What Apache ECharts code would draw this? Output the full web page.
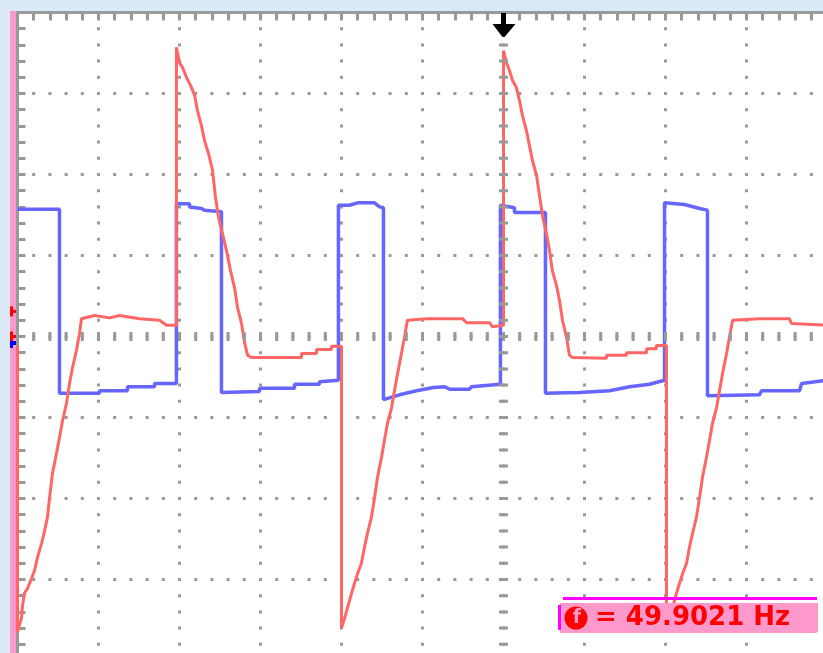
<!DOCTYPE html>
<html>
<head>
<meta charset="utf-8">
<script src="https://cdn.jsdelivr.net/npm/echarts/dist/echarts.min.js"></script>
<style>
  html, body { margin: 0; padding: 0; background: #dbe9f7; }
  #scope { width: 823px; height: 653px; }
</style>
</head>
<body>
<div id="scope"></div>
<script>
// Time in ms (5 ms/div, trigger at 0), level in divisions (0 = centre line)
const redTrace = [
  [-30.0,-0.11],[-30.0,-3.65],[-29.75,-3.47],[-29.69,-3.32],[-29.57,-3.17],[-29.38,-3.11],[-29.14,-2.99],
  [-28.95,-2.89],[-28.77,-2.73],[-28.52,-2.56],[-28.33,-2.40],[-28.15,-2.23],[-28.02,-1.99],[-27.84,-1.69],
  [-27.59,-1.44],[-27.41,-1.25],[-27.22,-1.04],[-26.98,-0.83],[-26.79,-0.58],[-26.60,-0.38],[-26.36,-0.17],
  [-26.17,0.04],[-26.05,0.22],[-25.25,0.26],[-24.32,0.23],[-23.70,0.26],[-22.47,0.22],[-21.23,0.20],
  [-20.80,0.14],[-20.19,0.14],
  [-20.19,3.57],[-20.0,3.38],[-19.81,3.32],[-19.57,3.20],[-19.32,3.10],[-19.07,2.98],[-18.89,2.79],
  [-18.64,2.60],[-18.46,2.42],[-18.21,2.26],[-17.96,2.05],[-17.78,1.72],[-17.59,1.47],[-17.35,1.27],
  [-17.10,1.06],[-16.85,0.81],[-16.60,0.60],[-16.42,0.36],[-16.17,0.16],[-15.99,-0.07],[-15.80,-0.23],
  [-15.56,-0.26],[-12.47,-0.26],[-12.47,-0.21],[-11.54,-0.21],[-11.54,-0.16],[-10.62,-0.16],[-10.62,-0.12],
  [-10.0,-0.12],
  [-10.0,-3.60],[-9.81,-3.48],[-9.63,-3.35],[-9.38,-3.17],[-9.20,-3.05],[-9.01,-2.93],[-8.77,-2.80],
  [-8.58,-2.60],[-8.40,-2.43],[-8.15,-2.23],[-7.96,-1.99],[-7.78,-1.74],[-7.53,-1.49],[-7.35,-1.28],
  [-7.16,-1.07],[-6.91,-0.88],[-6.73,-0.67],[-6.54,-0.46],[-6.30,-0.21],[-6.11,-0.01],[-5.93,0.20],
  [-4.75,0.22],[-2.53,0.22],[-2.28,0.17],[-0.86,0.17],[-0.68,0.12],[0,0.14],
  [0,3.53],[0.19,3.38],[0.37,3.28],[0.56,3.16],[0.80,3.07],[0.99,2.91],[1.17,2.73],[1.42,2.54],
  [1.60,2.36],[1.79,2.17],[2.04,1.99],[2.22,1.74],[2.41,1.49],[2.65,1.27],[2.84,1.06],[3.02,0.81],
  [3.27,0.63],[3.46,0.44],[3.64,0.20],[3.89,-0.01],[4.07,-0.23],[4.26,-0.26],[6.36,-0.27],[6.36,-0.23],
  [7.59,-0.23],[7.59,-0.20],[8.83,-0.20],[8.83,-0.15],[9.44,-0.15],[9.44,-0.11],[10.06,-0.11],
  [10.06,-3.60],[10.25,-3.48],[10.43,-3.35],[10.68,-3.17],[10.86,-3.05],[11.05,-2.93],[11.30,-2.80],
  [11.48,-2.60],[11.67,-2.43],[11.91,-2.23],[12.10,-1.99],[12.28,-1.74],[12.53,-1.49],[12.72,-1.28],
  [12.90,-1.07],[13.15,-0.88],[13.33,-0.67],[13.52,-0.46],[13.77,-0.21],[13.95,-0.01],[14.14,0.20],
  [15.80,0.22],[17.65,0.22],[17.78,0.16],[20.0,0.14]
];

const blueTrace = [
  [-30.0,1.57],[-27.41,1.57],
  [-27.41,-0.70],[-24.94,-0.70],[-24.94,-0.67],[-23.21,-0.67],[-23.21,-0.62],[-21.54,-0.62],
  [-21.54,-0.58],[-20.19,-0.58],
  [-20.19,1.64],[-19.38,1.64],[-19.38,1.60],[-18.64,1.58],[-18.46,1.56],[-17.41,1.54],
  [-17.41,-0.69],[-15.06,-0.68],[-15.06,-0.64],[-12.90,-0.64],[-12.90,-0.59],[-11.36,-0.59],
  [-11.36,-0.56],[-10.19,-0.54],
  [-10.19,1.62],[-9.51,1.62],[-9.01,1.65],[-7.96,1.65],[-7.65,1.60],[-7.41,1.59],
  [-7.41,-0.78],[-6.42,-0.72],[-5.37,-0.67],[-4.32,-0.63],[-3.64,-0.62],[-3.33,-0.65],[-2.10,-0.65],
  [-1.98,-0.62],[-0.19,-0.59],
  [-0.19,1.62],[0.68,1.59],[0.68,1.53],[2.59,1.53],
  [2.59,-0.70],[4.69,-0.69],[6.54,-0.67],[7.78,-0.62],[9.01,-0.59],[9.94,-0.54],
  [9.94,1.65],[11.17,1.63],[12.10,1.58],[12.59,1.56],
  [12.59,-0.73],[15.80,-0.72],[15.93,-0.67],[18.27,-0.67],[18.40,-0.58],[20.0,-0.54]
];

// Screen extent and markers
const timeRange = [-30, 20];      // ms
const levelRange = [-4, 4];       // divisions
const msPerDiv = 5;
const triggerTime = 0;
const triggerLevel = 0.31;
const redGround = 0;
const blueGround = -0.08;
const frequencyHz = 49.9021;

const GRID = '#999999';
const dotted = { color: GRID, width: 3, type: [3, 13.2], dashOffset: 1.5 };

const chart = echarts.init(document.getElementById('scope'));

chart.setOption({
  animation: false,
  grid: {
    left: 17.5, top: 12.5, width: 810, height: 648,
    show: true, backgroundColor: '#ffffff', borderWidth: 0,
    containLabel: false, outerBoundsMode: 'none'
  },
  xAxis: [
    {
      type: 'value', min: timeRange[0], max: timeRange[1], interval: msPerDiv, position: 'bottom',
      axisLine: { show: false, onZero: false }, axisTick: { show: false }, axisLabel: { show: false },
      splitLine: { show: true, lineStyle: dotted }
    },
    {
      type: 'value', min: timeRange[0], max: timeRange[1], interval: msPerDiv / 5, position: 'top',
      axisLine: { show: true, onZero: false, lineStyle: { color: GRID, width: 3 } },
      axisTick: { show: true, inside: true, length: 8, lineStyle: { color: GRID, width: 3 } },
      axisLabel: { show: false }, splitLine: { show: false }
    }
  ],
  yAxis: [
    {
      type: 'value', min: levelRange[0], max: levelRange[1], interval: 1, position: 'left',
      axisLine: { show: true, onZero: false, lineStyle: { color: GRID, width: 3 } },
      axisTick: { show: false }, axisLabel: { show: false },
      splitLine: { show: true, lineStyle: dotted }
    },
    {
      type: 'value', min: levelRange[0], max: levelRange[1], interval: 0.2, position: 'left',
      axisLine: { show: false, onZero: false },
      axisTick: { show: true, inside: true, length: 8, lineStyle: { color: GRID, width: 3 } },
      axisLabel: { show: false }, splitLine: { show: false }
    }
  ],
  series: [
    {
      name: 'CH2', type: 'line', data: blueTrace, xAxisIndex: 0, yAxisIndex: 0,
      showSymbol: false, clip: false, silent: true,
      lineStyle: { color: '#6666ff', width: 3.5 },
      markLine: {
        silent: true, symbol: 'none', label: { show: false }, animation: false,
        lineStyle: { color: GRID, width: 9, type: [3, 13.2], dashOffset: 1.5 },
        data: [{ yAxis: 0 }, { xAxis: 0 }]
      },
      z: 3
    },
    {
      name: 'CH1', type: 'line', data: redTrace, xAxisIndex: 0, yAxisIndex: 0,
      showSymbol: false, clip: false, silent: true,
      lineStyle: { color: '#ff6666', width: 3 },
      z: 4
    }
  ]
});

// Screen furniture placed from axis values
const toPx = (t, v) => chart.convertToPixel({ xAxisIndex: 0, yAxisIndex: 0 }, [t, v]);
const trigX = toPx(triggerTime, 0)[0];
const yTrig = toPx(0, triggerLevel)[1];
const yRed = toPx(0, redGround)[1];
const yBlue = toPx(0, blueGround)[1];

function redFlag(y) {
  return [
    { type: 'rect', z: 50, shape: { x: 10, y: y - 5, width: 3, height: 10 }, style: { fill: '#ff0000' } },
    { type: 'rect', z: 50, shape: { x: 13, y: y - 1.5, width: 3, height: 3 }, style: { fill: '#ff0000' } }
  ];
}

chart.setOption({
  graphic: [
    { type: 'rect', z: 1, shape: { x: 10, y: 11, width: 6, height: 642 }, style: { fill: '#ff99cc' } },
    { type: 'rect', z: 40, shape: { x: 16, y: 11, width: 3, height: 3 }, style: { fill: GRID } },
    ...redFlag(yTrig),
    ...redFlag(yRed),
    { type: 'rect', z: 50, shape: { x: 10, y: yBlue - 2, width: 6, height: 4 }, style: { fill: '#0000ff' } },
    { type: 'rect', z: 50, shape: { x: 10, y: yBlue + 2, width: 3, height: 3 }, style: { fill: '#0000ff' } },
    {
      type: 'polygon', z: 60,
      shape: { points: [[trigX - 2.5, 13], [trigX + 2.5, 13], [trigX + 2.5, 24], [trigX + 12, 24],
                        [trigX + 1, 37], [trigX - 1, 37], [trigX - 11, 24], [trigX - 2.5, 24]] },
      style: { fill: '#000000' }
    },
    // frequency readout
    { type: 'rect', z: 80, shape: { x: 563, y: 597, width: 254, height: 3 }, style: { fill: '#ff00ff' } },
    { type: 'rect', z: 80, shape: { x: 560, y: 603, width: 258, height: 30, r: [0, 0, 3, 0] }, style: { fill: '#ff99cc' } },
    { type: 'rect', z: 81, shape: { x: 558, y: 605, width: 3, height: 25 }, style: { fill: '#ff00ff' } },
    { type: 'circle', z: 82, shape: { cx: 576, cy: 618, r: 11.5 }, style: { fill: '#ff0000' } },
    {
      type: 'text', z: 83, x: 577, y: 618,
      style: { text: 'f', fill: '#ff99cc', font: 'bold 19px "DejaVu Sans"', align: 'center', verticalAlign: 'middle' }
    },
    {
      type: 'text', z: 83, x: 595, y: 618,
      style: { text: '= ' + frequencyHz.toFixed(4) + ' Hz', fill: '#ff0000',
               font: 'bold 26px "DejaVu Sans"', align: 'left', verticalAlign: 'middle' }
    }
  ]
});
</script>
</body>
</html>
